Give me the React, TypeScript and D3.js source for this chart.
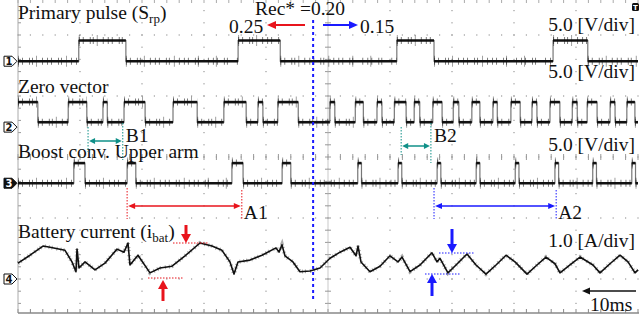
import React from "react";
import * as d3 from "d3";

// ---------- data (time in ms, 10 ms/div) ----------
const TIME_RANGE = [0, 100];
const CHANNEL_NAMES = ["Primary pulse (S", "Zero vector", "Boost conv. Upper arm", "Battery current (i"];
const CHANNEL_SUBS = ["rp", "", "", "bat"];
const CHANNEL_SCALE_LABELS = ["5.0 [V/div]", "5.0 [V/div]", "5.0 [V/div]", "1.0 [A/div]"];
const CHANNEL_ZERO_DIV = [1.57, 0.49, -0.43, -2.0];
const CHANNEL_UNITS_PER_DIV = [5, 5, 5, 1];

const primaryOn = [[9.8, 17.4], [35.5, 42.3], [61.1, 67.1], [86.3, 91.9]];
const primaryLevels = [0, 1.7];

const zeroVectorOn = [
  [0, 3.2], [8.1, 11.1], [13.7, 14.4], [17.1, 20.5], [25.0, 28.9], [33.2, 36.8], [38.7, 39.5],
  [41.9, 45.2], [50.3, 51.1], [54.4, 55.7], [57.9, 58.7], [60.7, 62.6], [63.9, 64.8], [66.9, 68.4],
  [70.2, 71.1], [73.2, 74.5], [76.6, 77.3], [79.5, 81.0], [82.9, 83.7], [85.8, 87.4], [89.4, 90.2],
  [91.8, 93.4], [95.5, 96.3], [98.2, 99.5],
];
const zeroVectorLevels = [0.4, 2.05];

const boostOn = [
  [9.0, 10.8], [17.6, 19.0], [34.5, 36.3], [42.6, 44.0], [54.8, 55.4], [61.3, 61.9], [67.6, 68.2],
  [73.9, 74.5], [80.2, 80.8], [86.6, 87.2], [92.7, 93.3], [99.0, 99.6],
];
const boostLevels = [0, 1.65];

const batteryCurrent = [
  [0, 0.26], [1.94, 0.39], [4.03, 0.54], [5.16, 0.52], [7.58, 0.47], [8.71, 0.28], [9.35, 0.12],
  [9.52, 0.49], [9.84, 0.18], [10.81, 0.28], [12.42, 0.15], [14.03, 0.26], [15.97, 0.49], [17.1, 0.44],
  [17.74, 0.59], [18.06, 0.23], [19.35, 0.39], [21.29, 0.1], [22.9, 0.18], [24.84, 0.21], [26.94, 0.38],
  [29.35, 0.59], [31.29, 0.54], [32.9, 0.47], [34.19, 0.28], [34.84, 0.08], [35.48, 0.28], [37.42, 0.31],
  [39.35, 0.39], [41.61, 0.51], [42.1, 0.44], [42.58, 0.56], [43.06, 0.38], [44.35, 0.28], [45.48, 0.12],
  [47.1, 0.13], [48.71, 0.18], [50.32, 0.34], [51.94, 0.44], [53.55, 0.52], [54.52, 0.38], [54.84, 0.54],
  [55.32, 0.28], [56.77, 0.12], [58.39, 0.21], [60.0, 0.38], [61.29, 0.28], [61.94, 0.36], [63.23, 0.12],
  [64.84, 0.23], [66.77, 0.43], [67.58, 0.28], [68.06, 0.34], [69.35, 0.1], [70.65, 0.23], [72.42, 0.41],
  [73.87, 0.23], [75.48, 0.08], [77.1, 0.23], [78.71, 0.39], [80.16, 0.28], [82.1, 0.08], [83.71, 0.23],
  [85.16, 0.36], [86.61, 0.25], [87.42, 0.1], [89.03, 0.23], [90.65, 0.36], [92.74, 0.23], [93.87, 0.1],
  [95.48, 0.25], [97.1, 0.39], [98.39, 0.28], [99.52, 0.1], [100, 0.15],
];

// annotation spans (ms)
const spanA1 = [17.6, 36.1];
const spanA2 = [67.1, 86.8];
const spanB1 = [11.3, 16.9];
const spanB2 = [61.8, 66.6];
const recLabel = "Rec* =0.20";
const leftRec = "0.25";
const rightRec = "0.15";
const cursorTime = 47.6;

// ---------- layout ----------
const W = 639, H = 320;
const X0 = 18, X1 = 638;
const YC = 157, DIV = 61;
const FONT = "'Liberation Serif', 'Times New Roman', serif";
const FS = 19.5;

function stepPoints(iv: number[][], lo: number, hi: number) {
  const pts: number[][] = [];
  if (iv[0][0] > TIME_RANGE[0]) pts.push([TIME_RANGE[0], lo]);
  for (const [a, b] of iv) {
    if (a > TIME_RANGE[0]) pts.push([a, lo]);
    pts.push([a, hi], [b, hi], [b, lo]);
  }
  pts.push([TIME_RANGE[1], lo]);
  return pts;
}

function Arrow({ x1, y1, x2, y2, color, w = 1.5, hl = 8, hw = 4, both = false }: any) {
  const ang = Math.atan2(y2 - y1, x2 - x1);
  const head = (hx: number, hy: number, a: number) => {
    const bx = hx - hl * Math.cos(a), by = hy - hl * Math.sin(a);
    const px = -Math.sin(a) * hw, py = Math.cos(a) * hw;
    return `M${hx},${hy}L${bx + px},${by + py}L${bx - px},${by - py}Z`;
  };
  const sx = both ? x1 + (hl - 1) * Math.cos(ang) : x1;
  const sy = both ? y1 + (hl - 1) * Math.sin(ang) : y1;
  const ex = x2 - (hl - 1) * Math.cos(ang), ey = y2 - (hl - 1) * Math.sin(ang);
  return (
    <g>
      <line x1={sx} y1={sy} x2={ex} y2={ey} stroke={color} strokeWidth={w} />
      <path d={head(x2, y2, ang)} fill={color} />
      {both && <path d={head(x1, y1, ang + Math.PI)} fill={color} />}
    </g>
  );
}

export default function App() {
  const x = d3.scaleLinear().domain(TIME_RANGE).range([X0, X1]);
  const y = d3.scaleLinear().domain([-4, 4]).range([YC + 4 * DIV, YC - 4 * DIV]);
  const chY = (ch: number, v: number) => y(CHANNEL_ZERO_DIV[ch] + v / CHANNEL_UNITS_PER_DIV[ch]);

  const line = (ch: number) =>
    d3.line<number[]>().x((d) => x(d[0])).y((d) => chY(ch, d[1]));

  const digital = [
    { ch: 0, pts: stepPoints(primaryOn, primaryLevels[0], primaryLevels[1]) },
    { ch: 1, pts: stepPoints(zeroVectorOn, zeroVectorLevels[0], zeroVectorLevels[1]) },
    { ch: 2, pts: stepPoints(boostOn, boostLevels[0], boostLevels[1]) },
  ];

  // grid
  const majorX = d3.range(1, 10).map((k) => TIME_RANGE[0] + k * 10);
  const majorY = [-2, -1, 0, 1, 2];
  const minorX = d3.range(0, 50.001, 1).map((k) => k * 2);
  const minorY = d3.range(-12, 13).map((k) => k * 0.2);
  const yTop = 0, yBot = 313;
  const inY = (v: number) => y(v) >= yTop && y(v) <= yBot;

  const dots: JSX.Element[] = [];
  majorX.forEach((t) =>
    minorY.filter(inY).forEach((v) => dots.push(<rect key={`vx${t}_${v}`} x={x(t) - 0.6} y={y(v) - 0.6} width={1.2} height={1.2} fill="#9a9a9a" />))
  );
  majorY.forEach((v) =>
    minorX.forEach((t) => dots.push(<rect key={`hy${v}_${t}`} x={x(t) - 0.6} y={y(v) - 0.6} width={1.2} height={1.2} fill="#9a9a9a" />))
  );
  const ticks: JSX.Element[] = [];
  minorY.filter(inY).forEach((v) => {
    ticks.push(<line key={`cy${v}`} x1={x(50) - 3} x2={x(50) + 3} y1={y(v)} y2={y(v)} stroke="#999" strokeWidth={1} />);
    ticks.push(<line key={`ly${v}`} x1={X0} x2={X0 + 3} y1={y(v)} y2={y(v)} stroke="#999" strokeWidth={1} />);
  });
  minorX.forEach((t) => {
    ticks.push(<line key={`cx${t}`} x1={x(t)} x2={x(t)} y1={y(0) - 3} y2={y(0) + 3} stroke="#999" strokeWidth={1} />);
    ticks.push(<line key={`bx${t}`} x1={x(t)} x2={x(t)} y1={yBot - 4} y2={yBot} stroke="#888" strokeWidth={1} />);
    ticks.push(<line key={`tx${t}`} x1={x(t)} x2={x(t)} y1={0} y2={3} stroke="#aaa" strokeWidth={1} />);
  });

  const markerLabels = ["1", "2", "3", "4"];
  const cursorX = x(cursorTime);

  return (
    <svg width={W} height={H} style={{ position: "fixed", left: 0, top: 0, background: "#fff" }} fontFamily={FONT}>
      <rect width={W} height={H} fill="#fff" />
      {/* grid */}
      <g>{dots}</g>
      <g>{ticks}</g>
      <line x1={X0} x2={X0} y1={0} y2={yBot} stroke="#aaa" strokeWidth={1} />
      <line x1={X0} x2={W} y1={yBot} y2={yBot} stroke="#888" strokeWidth={1.5} />
      <line x1={x(50)} x2={x(50)} y1={0} y2={yBot} stroke="#bbb" strokeWidth={0.8} />

      {/* digital traces */}
      {digital.map(({ ch, pts }) => {
        const segs = pts.slice(1).map((p, i) => [pts[i], p]).filter(([a, b]) => a[1] === b[1] && b[0] > a[0]);
        return (
          <g key={ch}>
            <path d={line(ch)(pts) || ""} fill="none" stroke="#777" strokeWidth={1.2} />
            {segs.map(([a, b], i) => (
              <g key={i}>
                <line x1={x(a[0])} x2={x(b[0])} y1={chY(ch, a[1])} y2={chY(ch, b[1])} stroke="#111" strokeWidth={2.6} />
                <line x1={x(a[0])} x2={x(b[0])} y1={chY(ch, a[1])} y2={chY(ch, b[1])} stroke="#111" strokeWidth={7} strokeOpacity={0.55} strokeDasharray="1 3 1 6 1 2 1 9 1 4" />
                <line x1={x(a[0])} x2={x(b[0])} y1={chY(ch, a[1])} y2={chY(ch, b[1])} stroke="#111" strokeWidth={11} strokeOpacity={0.4} strokeDasharray="1 17 1 29 1 23" />
              </g>
            ))}
          </g>
        );
      })}
      {/* battery current */}
      <path d={line(3)(batteryCurrent) || ""} fill="none" stroke="#111" strokeWidth={1.6} strokeLinejoin="round" />
      <path d={line(3)(batteryCurrent) || ""} fill="none" stroke="#111" strokeWidth={4} strokeOpacity={0.35} strokeDasharray="1 2 1 4 1 3" />

      {/* channel markers */}
      {markerLabels.map((m, ch) => {
        const yc = y(CHANNEL_ZERO_DIV[ch]);
        const filled = ch === 2;
        return (
          <g key={m}>
            <path d={`M4,${yc - 5}L12,${yc - 5}L17,${yc}L12,${yc + 5}L4,${yc + 5}Z`} fill={filled ? "#111" : "#fff"} stroke="#111" strokeWidth={1} />
            <text x={9} y={yc + 3.5} fontSize={10} textAnchor="middle" fontFamily="'DejaVu Sans', sans-serif" fill={filled ? "#fff" : "#111"} fontWeight="bold">{m}</text>
          </g>
        );
      })}
      {/* trigger icon */}
      <rect x={632} y={3} width={7} height={8} rx={1.5} fill="#111" />
      <text x={635.5} y={9.5} fontSize={7} textAnchor="middle" fill="#fff" fontFamily="'DejaVu Sans', sans-serif" fontWeight="bold">T</text>

      {/* channel titles */}
      {[19, 93, 158, 238].map((yy, ch) => (
        <text key={ch} x={18} y={yy} fontSize={FS} fill="#111">
          {CHANNEL_NAMES[ch]}
          {CHANNEL_SUBS[ch] && <tspan fontSize={13} dy={4}>{CHANNEL_SUBS[ch]}</tspan>}
          {CHANNEL_SUBS[ch] && <tspan dy={-4}>)</tspan>}
        </text>
      ))}
      {[31, 78, 151, 247].map((yy, ch) => (
        <text key={ch} x={635} y={yy} fontSize={FS} textAnchor="end" fill="#111">{CHANNEL_SCALE_LABELS[ch]}</text>
      ))}

      {/* recovery cursor */}
      <text x={255} y={15} fontSize={FS} fill="#111">{recLabel}</text>
      <text x={229} y={33} fontSize={FS} fill="#111">{leftRec}</text>
      <text x={360} y={33} fontSize={FS} fill="#111">{rightRec}</text>
      <Arrow x1={305} y1={25} x2={267} y2={25} color="#e8141c" w={2} hl={9} hw={4} />
      <Arrow x1={323} y1={25} x2={358} y2={25} color="#1a1aff" w={2} hl={9} hw={4} />
      <line x1={cursorX} x2={cursorX} y1={20} y2={302} stroke="#1a1aff" strokeWidth={2} strokeDasharray="3 3" />

      {/* B1 / B2 */}
      {[{ s: spanB1, y0: 127, y1: 152, ay: 141, lab: "B1" }, { s: spanB2, y0: 127, y1: 155, ay: 146, lab: "B2" }].map((b) => (
        <g key={b.lab}>
          <line x1={x(b.s[0])} x2={x(b.s[0])} y1={b.y0} y2={b.y1} stroke="#109088" strokeWidth={1} strokeDasharray="1.5 1.5" />
          <line x1={x(b.s[1])} x2={x(b.s[1])} y1={b.y0 - 4} y2={b.y1 + 8} stroke="#109088" strokeWidth={1} strokeDasharray="1.5 1.5" />
          <Arrow x1={x(b.s[0]) + 1} y1={b.ay} x2={x(b.s[1]) - 1} y2={b.ay} color="#109088" w={1.5} hl={6} hw={3} both />
          <text x={x(b.s[1]) + 3} y={142} fontSize={FS} fill="#111">{b.lab}</text>
        </g>
      ))}

      {/* A1 / A2 */}
      {[{ s: spanA1, c: "#e8141c", lab: "A1" }, { s: spanA2, c: "#1a1aff", lab: "A2" }].map((a) => (
        <g key={a.lab}>
          <line x1={x(a.s[0])} x2={x(a.s[0])} y1={188} y2={219} stroke={a.c} strokeWidth={1} strokeDasharray="1.5 1.5" />
          <line x1={x(a.s[1])} x2={x(a.s[1])} y1={190} y2={219} stroke={a.c} strokeWidth={1} strokeDasharray="1.5 1.5" />
          <Arrow x1={x(a.s[0]) + 1} y1={206} x2={x(a.s[1]) - 1} y2={206} color={a.c} w={1.5} hl={7} hw={3} both />
          <text x={x(a.s[1]) + 2} y={219} fontSize={FS} fill="#111">{a.lab}</text>
        </g>
      ))}

      {/* ripple markers */}
      <line x1={173} x2={208} y1={243} y2={243} stroke="#e8141c" strokeWidth={1} strokeDasharray="1.5 1.5" />
      <line x1={148} x2={183} y1={278} y2={278} stroke="#e8141c" strokeWidth={1} strokeDasharray="1.5 1.5" />
      <Arrow x1={186} y1={225} x2={186} y2={243} color="#e8141c" w={3} hl={9} hw={5} />
      <Arrow x1={163} y1={301} x2={163} y2={280} color="#e8141c" w={3} hl={9} hw={5} />
      <line x1={439} x2={474} y1={253} y2={253} stroke="#1a1aff" strokeWidth={1} strokeDasharray="1.5 1.5" />
      <line x1={425} x2={460} y1={274} y2={274} stroke="#1a1aff" strokeWidth={1} strokeDasharray="1.5 1.5" />
      <Arrow x1={452} y1={229} x2={452} y2={253} color="#1a1aff" w={3} hl={9} hw={5} />
      <Arrow x1={432} y1={296} x2={432} y2={274} color="#1a1aff" w={3} hl={9} hw={5} />

      {/* time scale */}
      <Arrow x1={636} y1={291} x2={582} y2={291} color="#111" w={1.5} hl={8} hw={3.5} />
      <text x={590} y={311} fontSize={FS} fill="#111">10ms</text>
    </svg>
  );
}
